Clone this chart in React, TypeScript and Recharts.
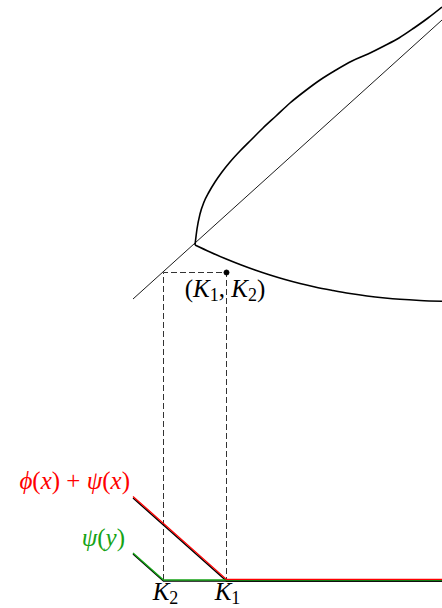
import React from 'react';
import { ComposedChart, Line, XAxis, YAxis, ReferenceDot } from 'recharts';

// Coordinates: x to the right, y upward.
const diagonal = [
    { x: 133, y: 309 },
    { x: 442, y: 588 },
];

const upperBranch = [
    { x: 195, y: 363 },
    { x: 197, y: 379 },
    { x: 200, y: 394 },
    { x: 204, y: 406 },
    { x: 209, y: 416 },
    { x: 215, y: 426 },
    { x: 222, y: 436 },
    { x: 230, y: 446 },
    { x: 240, y: 457 },
    { x: 251, y: 468 },
    { x: 263, y: 480 },
    { x: 276, y: 492 },
    { x: 290, y: 505 },
    { x: 305, y: 517 },
    { x: 320, y: 528 },
    { x: 336, y: 538 },
    { x: 352, y: 547 },
    { x: 368, y: 554 },
    { x: 384, y: 562 },
    { x: 399, y: 570 },
    { x: 414, y: 580 },
    { x: 428, y: 590 },
    { x: 442, y: 601 },
];

const lowerBranch = [
    { x: 195, y: 363 },
    { x: 210, y: 356 },
    { x: 225, y: 349.5 },
    { x: 240, y: 343.5 },
    { x: 255, y: 338 },
    { x: 270, y: 333 },
    { x: 285, y: 328.5 },
    { x: 300, y: 324.5 },
    { x: 315, y: 321 },
    { x: 333, y: 317.5 },
    { x: 350, y: 314.5 },
    { x: 367, y: 312 },
    { x: 385, y: 310 },
    { x: 400, y: 308.7 },
    { x: 420, y: 307.5 },
    { x: 442, y: 306.7 },
];

const K2 = 163.5;
const K1 = 226.5;
const base = 28;
const cornerY = 335.5;

const guide = [
    { x: K2, y: base },
    { x: K2, y: cornerY },
    { x: K1, y: cornerY },
    { x: K1, y: base },
];

const phiPlusPsi = [
    { x: 133, y: 111 },
    { x: K1, y: base },
    { x: 442, y: base },
];

const psi = [
    { x: 133, y: 55 },
    { x: K2, y: base },
    { x: 442, y: base },
];

const shift = (pts: { x: number; y: number }[], d: number) => pts.map(p => ({ x: p.x, y: p.y + d }));

const RED = '#ff0000';
const GREEN = '#16a316';
const FONT = "'Liberation Serif', 'DejaVu Serif', serif";
const SIZE = 25;
const SUB = 18;
const DROP = 4;

type Piece = { t: string; sub?: boolean; it?: boolean };

const MathLabel = ({ viewBox, pieces, color, anchor }: any) => {
    const x = viewBox ? viewBox.x + (viewBox.width || 0) / 2 : 0;
    const y = viewBox ? viewBox.y + (viewBox.height || 0) / 2 : 0;
    return (
        <text x={x} y={y} fill={color} textAnchor={anchor}
            style={{ fontFamily: FONT, fontSize: SIZE, whiteSpace: 'pre' }}>
            {pieces.map((p: Piece, i: number) => (
                <tspan
                    key={i}
                    style={{ fontStyle: p.it ? 'italic' : 'normal', fontSize: p.sub ? SUB : SIZE }}
                    dy={p.sub ? DROP : (i > 0 && pieces[i - 1].sub ? -DROP : 0)}
                >
                    {p.t}
                </tspan>
            ))}
        </text>
    );
};

const pointLabel: Piece[] = [
    { t: '(' }, { t: 'K', it: true }, { t: '1', sub: true }, { t: ', ' },
    { t: 'K', it: true }, { t: '2', sub: true }, { t: ')' },
];
const sumLabel: Piece[] = [
    { t: 'ϕ', it: true }, { t: '(' }, { t: 'x', it: true }, { t: ') + ' },
    { t: 'ψ', it: true }, { t: '(' }, { t: 'x', it: true }, { t: ')' },
];
const psiLabel: Piece[] = [{ t: 'ψ', it: true }, { t: '(' }, { t: 'y', it: true }, { t: ')' }];
const k1Label: Piece[] = [{ t: 'K', it: true }, { t: '1', sub: true }];
const k2Label: Piece[] = [{ t: 'K', it: true }, { t: '2', sub: true }];

const common = { dataKey: 'y', dot: false, activeDot: false, isAnimationActive: false, legendType: 'none' as const };

export default function App() {
    return (
        <div style={{ position: 'absolute', left: 0, top: 0, background: '#fff' }}>
            <ComposedChart width={442} height={608} margin={{ top: 0, right: 0, bottom: 0, left: 0 }}>
                <XAxis type="number" dataKey="x" domain={[0, 442]} hide allowDataOverflow />
                <YAxis type="number" domain={[0, 608]} hide allowDataOverflow />

                <Line {...common} data={guide} type="linear" stroke="#333" strokeWidth={1} strokeDasharray="6 3" />

                <Line {...common} data={diagonal} type="linear" stroke="#000" strokeWidth={0.9} />
                <Line {...common} data={upperBranch} type="monotoneX" stroke="#000" strokeWidth={1.6} />
                <Line {...common} data={lowerBranch} type="monotoneX" stroke="#000" strokeWidth={1.6} />

                <Line {...common} data={shift(phiPlusPsi, -1)} type="linear" stroke="#000" strokeWidth={1.4} />
                <Line {...common} data={shift(psi, -1)} type="linear" stroke="#000" strokeWidth={1.4} />
                <Line {...common} data={psi} type="linear" stroke={GREEN} strokeWidth={1.4} />
                <Line {...common} data={shift(phiPlusPsi, 0.6)} type="linear" stroke={RED} strokeWidth={1.3} />

                <ReferenceDot x={K1} y={cornerY} r={2.5} fill="#000" stroke="#000" />

                <ReferenceDot x={225} y={311} r={0} stroke="none"
                    label={<MathLabel pieces={pointLabel} color="#000" anchor="middle" />} />
                <ReferenceDot x={130} y={119} r={0} stroke="none"
                    label={<MathLabel pieces={sumLabel} color={RED} anchor="end" />} />
                <ReferenceDot x={125} y={62} r={0} stroke="none"
                    label={<MathLabel pieces={psiLabel} color={GREEN} anchor="end" />} />
                <ReferenceDot x={K2 + 2} y={8} r={0} stroke="none"
                    label={<MathLabel pieces={k2Label} color="#000" anchor="middle" />} />
                <ReferenceDot x={K1 + 1} y={8} r={0} stroke="none"
                    label={<MathLabel pieces={k1Label} color="#000" anchor="middle" />} />
            </ComposedChart>
        </div>
    );
}
